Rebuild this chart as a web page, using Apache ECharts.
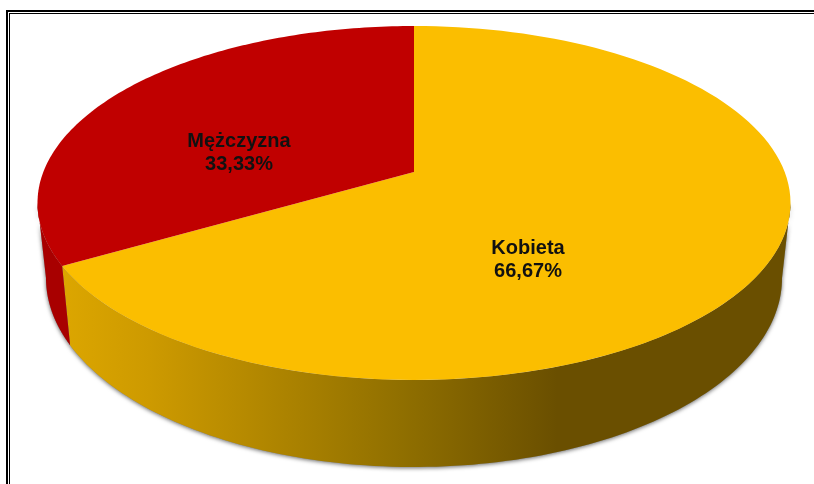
<!DOCTYPE html>
<html>
<head>
<meta charset="utf-8">
<style>html,body{margin:0;padding:0;background:#fff}#main{width:814px;height:484px}</style>
<script src="https://cdn.jsdelivr.net/npm/echarts@6/dist/echarts.min.js"></script>
</head>
<body>
<div id="main"></div>
<script>
var categories = ['Kobieta', 'Mężczyzna'];
var percents = [66.67, 33.33];
var percentLabels = ['66,67%', '33,33%'];

var chart = echarts.init(document.getElementById('main'));

// top face and bottom rim of the tilted disc
var topFace = {cx: 414, cy: 203, rx: 376.5, ry: 177};
var bottomRim = {cx: 414, cy: 278, rx: 368, ry: 189};
var tilt = 0.175; // how far perspective pushes the disc centre up
var labelAt = [[528, 260], [239, 153]];
var faceColors = ['#FBBE00', '#C00000'];
var wallFills = [
	{type: 'linear', x: 0, y: 0, x2: 1, y2: 0, colorStops: [
		{offset: 0, color: '#DCA600'},
		{offset: 0.12, color: '#CD9A00'},
		{offset: 0.46, color: '#917000'},
		{offset: 0.68, color: '#6A4F00'},
		{offset: 1, color: '#6A4F00'}
	]},
	'#A80000'
];
var total = percents[0] + percents[1];

// angle is clockwise from 12 o'clock, in radians
function project(e, angle) {
	var u = Math.sin(angle), v = Math.cos(angle);
	var d = 1 + tilt * v;
	var k = Math.sqrt(1 - tilt * tilt);
	return [e.cx + e.rx * u * k / d, e.cy - e.ry * (v + tilt) / d];
}
function arc(e, from, to) {
	var pts = [], n = 120;
	for (var i = 0; i <= n; i++) pts.push(project(e, from + (to - from) * i / n));
	return pts;
}
function startOf(i) {
	var s = 0;
	for (var j = 0; j < i; j++) s += percents[j];
	return s / total * Math.PI * 2;
}
// only the front of the wall shows, between the side extremes of the disc
function wallPoints(i, api) {
	var a0 = startOf(i);
	var a1 = a0 + api.value(1) / total * Math.PI * 2;
	var w0 = Math.max(a0, Math.PI - Math.acos(tilt));
	var w1 = Math.min(a1, Math.PI + Math.acos(tilt));
	return arc(topFace, w0, w1).concat(arc(bottomRim, w0, w1).reverse());
}

// shadows go in their own pass so they do not fall across the other slice
function renderShadow(params, api) {
	return {
		type: 'polygon',
		shape: {points: wallPoints(params.dataIndex, api)},
		style: {fill: '#888', shadowBlur: 4, shadowOffsetY: 1, shadowColor: 'rgba(0,0,0,0.6)'}
	};
}

function renderSlice(params, api) {
	var i = params.dataIndex;
	var a0 = startOf(i);
	var a1 = a0 + api.value(1) / total * Math.PI * 2;
	var apex = [topFace.cx, topFace.cy - topFace.ry * tilt];
	return {type: 'group', children: [{
		type: 'polygon',
		shape: {points: wallPoints(i, api)},
		style: {fill: wallFills[i]}
	}, {
		type: 'polygon',
		shape: {points: [apex].concat(arc(topFace, a0, a1))},
		style: {fill: faceColors[i]}
	}, {
		type: 'text',
		x: labelAt[i][0],
		y: labelAt[i][1],
		style: {
			text: categories[api.value(0)] + '\n' + percentLabels[api.value(0)],
			fontFamily: 'Liberation Sans',
			fontWeight: 'bold',
			fontSize: 20,
			lineHeight: 23,
			fill: '#111',
			align: 'center',
			verticalAlign: 'middle'
		}
	}]};
}

var sliceData = categories.map(function (c, i) { return [i, percents[i]]; });

var option = {
	animation: false,
	backgroundColor: '#fff',
	graphic: [
		{type: 'rect', shape: {x: 6, y: 10, width: 808, height: 2}, style: {fill: '#000'}},
		{type: 'rect', shape: {x: 6, y: 10, width: 2, height: 474}, style: {fill: '#000'}},
		{type: 'rect', shape: {x: 9, y: 13, width: 805, height: 1}, style: {fill: '#000'}},
		{type: 'rect', shape: {x: 9, y: 13, width: 1, height: 471}, style: {fill: '#000'}}
	],
	series: [
		{type: 'custom', coordinateSystem: 'none', renderItem: renderShadow, data: sliceData, silent: true},
		{type: 'custom', coordinateSystem: 'none', renderItem: renderSlice, data: sliceData}
	]
};
chart.setOption(option);
</script>
</body>
</html>
